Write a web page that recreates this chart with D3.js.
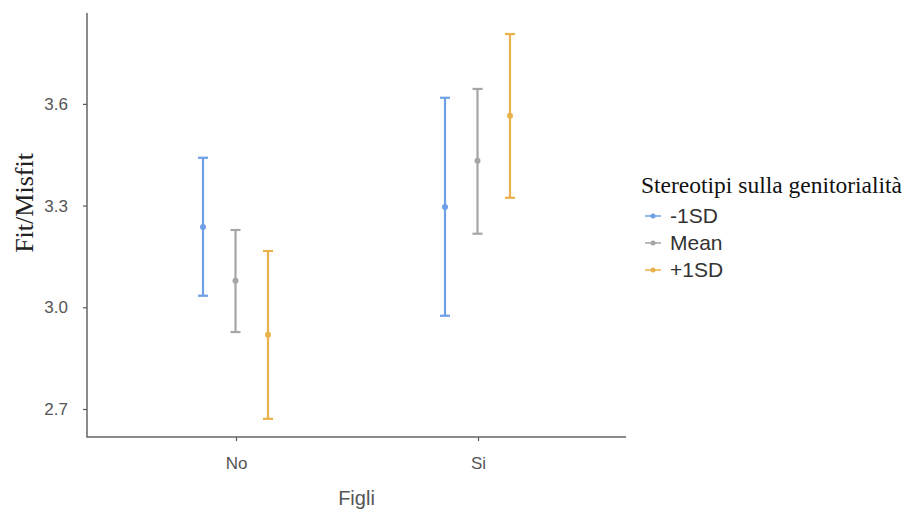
<!DOCTYPE html>
<html>
<head>
<meta charset="utf-8">
<script src="https://cdn.jsdelivr.net/npm/d3@7"></script>
<style>
body { margin: 0; background: #fff; }
</style>
</head>
<body>
<svg id="chart" width="906" height="509"></svg>
<script>
const categories = ["No", "Si"];
const seriesNames = ["-1SD", "Mean", "+1SD"];
const seriesColors = ["#6f9fe6", "#a6a6a6", "#e8b14c"];
const meanValues = {
  "-1SD": [3.237, 3.296],
  "Mean": [3.078, 3.432],
  "+1SD": [2.919, 3.565]
};
const lowerValues = {
  "-1SD": [3.034, 2.975],
  "Mean": [2.927, 3.217],
  "+1SD": [2.671, 3.323]
};
const upperValues = {
  "-1SD": [3.441, 3.618],
  "Mean": [3.228, 3.644],
  "+1SD": [3.166, 3.806]
};
const yTicks = [2.7, 3.0, 3.3, 3.6];
const xTitle = "Figli";
const yTitle = "Fit/Misfit";
const legendTitle = "Stereotipi sulla genitorialità";

const svg = d3.select("#chart");
const mLeft = 87, mRight = 626, mTop = 13, mBottom = 437;

const y = d3.scaleLinear().domain([2.6174, 3.868]).range([mBottom, mTop]);
const x = d3.scalePoint().domain(categories).range([236, 478]);
const dodge = d3.scalePoint().domain(seriesNames).range([-33, 32]);
const color = d3.scaleOrdinal().domain(seriesNames).range(seriesColors);

const sans = "Liberation Sans, Arial, sans-serif";
const serif = "Liberation Serif, Times New Roman, serif";

// axes
const yAxis = d3.axisLeft(y).tickValues(yTicks).tickFormat(d3.format(".1f")).tickSize(4).tickPadding(15);
const gy = svg.append("g").attr("transform", `translate(${mLeft},0)`).call(yAxis);
gy.select(".domain").remove();
gy.selectAll(".tick line").attr("stroke", "#555").attr("stroke-width", 1.2);
gy.selectAll(".tick text").attr("fill", "#555").style("font-family", sans).style("font-size", "17px");

const xAxis = d3.axisBottom(x).tickSize(4).tickPadding(16);
const gx = svg.append("g").attr("transform", `translate(0,${mBottom})`).call(xAxis);
gx.select(".domain").remove();
gx.selectAll(".tick line").attr("stroke", "#555").attr("stroke-width", 1.2);
gx.selectAll(".tick text").attr("fill", "#555").style("font-family", sans).style("font-size", "17px");

// axis lines
svg.append("path")
  .attr("d", `M${mLeft},${mTop}V${mBottom}H${mRight}`)
  .attr("fill", "none").attr("stroke", "#666").attr("stroke-width", 1.5);

// titles
svg.append("text").attr("x", (mLeft + mRight) / 2).attr("y", 505)
  .attr("text-anchor", "middle").attr("fill", "#555")
  .style("font-family", sans).style("font-size", "20px")
  .text(xTitle);
svg.append("text").attr("transform", `translate(33,203) rotate(-90)`)
  .attr("text-anchor", "middle").attr("fill", "#222")
  .style("font-family", serif).style("font-size", "26px")
  .text(yTitle);

// error bars
const capW = 5;
seriesNames.forEach(s => {
  const g = svg.append("g");
  categories.forEach((c, i) => {
    const cx = x(c) + dodge(s);
    const col = color(s);
    g.append("line").attr("x1", cx).attr("x2", cx)
      .attr("y1", y(lowerValues[s][i])).attr("y2", y(upperValues[s][i]))
      .attr("stroke", col).attr("stroke-width", 2.2);
    [lowerValues[s][i], upperValues[s][i]].forEach(v => {
      g.append("line").attr("x1", cx - capW).attr("x2", cx + capW)
        .attr("y1", y(v)).attr("y2", y(v))
        .attr("stroke", col).attr("stroke-width", 2.2);
    });
    g.append("circle").attr("cx", cx).attr("cy", y(meanValues[s][i])).attr("r", 3).attr("fill", col);
  });
});

// legend
svg.append("text").attr("x", 641).attr("y", 193).attr("fill", "#111")
  .style("font-family", serif).style("font-size", "23.5px")
  .text(legendTitle);
seriesNames.forEach((s, i) => {
  const ly = 216 + i * 27;
  svg.append("line").attr("x1", 645).attr("x2", 661).attr("y1", ly).attr("y2", ly)
    .attr("stroke", color(s)).attr("stroke-width", 1.5);
  svg.append("circle").attr("cx", 653).attr("cy", ly).attr("r", 2.5).attr("fill", color(s));
  svg.append("text").attr("x", 670).attr("y", ly + 7).attr("fill", "#333")
    .style("font-family", sans).style("font-size", "21px")
    .text(s);
});
</script>
</body>
</html>
